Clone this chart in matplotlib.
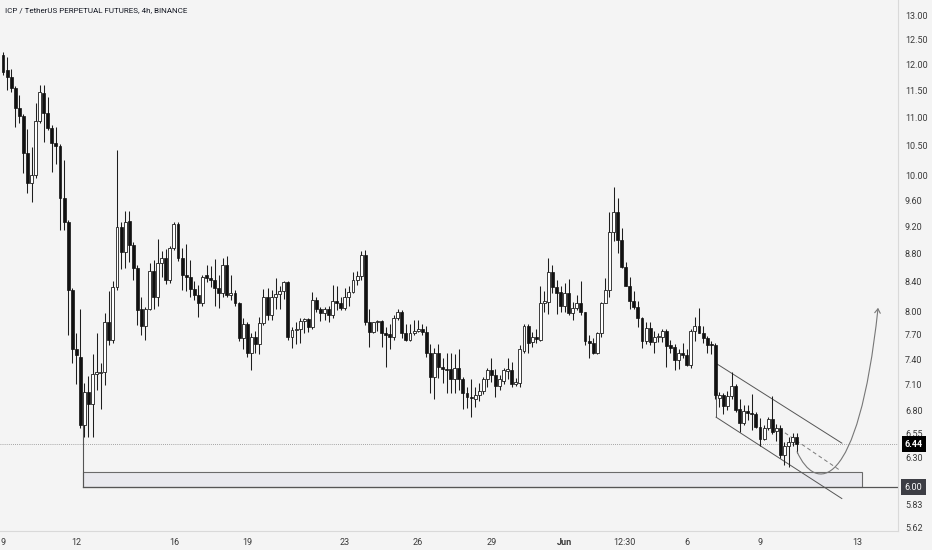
import numpy as np
import matplotlib
matplotlib.use("Agg")
import matplotlib.pyplot as plt
from matplotlib.patches import Rectangle, FancyArrowPatch
from matplotlib.path import Path
from matplotlib.ticker import FixedLocator, NullLocator, FixedFormatter

plt.rcParams['font.family'] = ['Roboto', 'DejaVu Sans']

# ---- 4h candles, ICP/USDT perp ----
opens = [12.18, 11.89, 11.75, 11.54, 11.17, 11.02, 10.38, 9.88, 10.01, 10.93,
         11.45, 11.08, 10.81, 10.55, 10.50, 9.64, 9.26, 8.29, 7.52, 7.43,
         6.64, 7.01, 6.88, 7.22, 7.24, 7.25, 7.87, 7.64, 8.33, 9.19,
         8.82, 9.28, 8.93, 8.60, 8.03, 7.82, 8.04, 8.55, 8.19, 8.67,
         8.74, 8.42, 8.88, 9.23, 8.74, 8.50, 8.47, 8.30, 8.22, 8.11,
         8.49, 8.45, 8.43, 8.32, 8.25, 8.64, 8.22, 8.25, 8.11, 7.66,
         7.84, 7.48, 7.67, 7.59, 7.85, 8.20, 7.96, 8.19, 8.24, 8.27,
         8.40, 7.68, 7.76, 7.77, 7.88, 7.90, 7.80, 8.16, 8.04, 7.98,
         8.04, 7.95, 8.14, 8.11, 8.05, 8.20, 8.26, 8.43, 8.48, 8.78,
         7.87, 7.74, 7.86, 7.88, 7.72, 7.71, 7.68, 7.92, 8.00, 7.73,
         7.64, 7.73, 7.75, 7.78, 7.74, 7.48, 7.19, 7.47, 7.31, 7.28,
         7.28, 7.17, 7.30, 7.17, 7.00, 6.96, 6.93, 6.98, 7.03, 7.16,
         7.27, 7.21, 7.08, 7.14, 7.26, 7.27, 7.11, 7.12, 7.50, 7.82,
         7.61, 7.68, 7.64, 8.11, 8.13, 8.54, 8.33, 8.26, 8.08, 8.25,
         7.98, 8.05, 8.11, 7.99, 7.62, 7.60, 7.48, 7.73, 8.12, 8.29,
         9.12, 9.42, 9.00, 8.61, 8.35, 8.14, 8.06, 7.92, 7.62, 7.79,
         7.61, 7.67, 7.68, 7.75, 7.57, 7.55, 7.39, 7.48, 7.45, 7.33,
         7.75, 7.82, 7.73, 7.66, 7.59, 7.58, 6.95, 6.98, 6.85, 6.97,
         7.08, 6.82, 6.67, 6.80, 6.78, 6.76, 6.62, 6.49, 6.61, 6.71,
         6.58, 6.61, 6.33, 6.42, 6.46, 6.51]

highs = [12.24, 12.14, 11.91, 11.58, 11.41, 11.06, 10.79, 10.48, 11.26, 11.60,
         11.60, 11.37, 10.86, 10.82, 10.53, 10.26, 9.30, 8.32, 7.73, 8.03,
         7.12, 7.20, 7.46, 7.73, 7.36, 7.98, 8.28, 8.41, 10.43, 9.27,
         9.44, 9.43, 8.96, 8.63, 8.19, 8.06, 8.67, 8.71, 9.01, 8.83,
         8.86, 8.91, 9.26, 9.26, 8.88, 8.94, 8.70, 8.41, 8.36, 8.49,
         8.64, 8.62, 8.72, 8.50, 8.74, 8.77, 8.50, 8.29, 8.13, 7.92,
         7.87, 7.73, 7.75, 7.93, 8.30, 8.32, 8.29, 8.46, 8.34, 8.41,
         8.41, 7.80, 7.86, 7.92, 7.92, 7.92, 8.26, 8.20, 8.06, 8.06,
         8.08, 8.36, 8.35, 8.20, 8.32, 8.34, 8.53, 8.55, 8.83, 8.85,
         8.03, 7.87, 7.89, 7.89, 7.80, 7.84, 7.96, 8.03, 8.02, 7.84,
         7.84, 7.89, 7.89, 7.84, 7.82, 7.59, 7.54, 7.59, 7.42, 7.48,
         7.48, 7.46, 7.52, 7.19, 7.07, 7.16, 7.07, 7.12, 7.19, 7.30,
         7.42, 7.28, 7.21, 7.30, 7.42, 7.37, 7.18, 7.58, 7.84, 7.84,
         7.74, 7.77, 8.34, 8.27, 8.74, 8.64, 8.43, 8.34, 8.39, 8.44,
         8.13, 8.22, 8.41, 8.00, 7.70, 7.66, 7.74, 8.13, 8.45, 9.42,
         9.82, 9.64, 9.18, 8.68, 8.47, 8.27, 8.14, 7.93, 7.87, 7.86,
         7.75, 7.73, 7.77, 7.77, 7.64, 7.59, 7.52, 7.60, 7.52, 7.77,
         7.93, 8.05, 7.82, 7.69, 7.63, 7.60, 7.01, 7.00, 7.02, 7.25,
         7.11, 6.93, 6.87, 6.86, 6.99, 6.79, 6.72, 6.64, 6.73, 6.97,
         6.66, 6.64, 6.46, 6.51, 6.56, 6.56]

lows = [11.79, 11.50, 11.46, 10.82, 10.90, 10.04, 9.72, 9.58, 9.96, 10.90,
        10.57, 10.77, 10.06, 10.19, 9.15, 9.15, 7.70, 7.36, 7.10, 6.61,
        6.52, 6.52, 6.52, 7.04, 6.82, 7.09, 7.58, 7.60, 8.29, 8.58,
        8.60, 8.68, 8.43, 7.83, 7.70, 7.64, 8.02, 8.04, 8.08, 8.47,
        8.37, 8.39, 8.85, 8.69, 8.29, 8.27, 8.19, 8.16, 7.93, 8.07,
        8.40, 8.33, 8.08, 8.05, 8.19, 8.19, 8.16, 8.08, 7.63, 7.52,
        7.43, 7.27, 7.48, 7.46, 7.83, 7.89, 7.89, 8.04, 8.04, 8.17,
        7.64, 7.54, 7.59, 7.60, 7.73, 7.74, 7.77, 7.99, 7.88, 7.89,
        7.86, 7.92, 8.02, 8.02, 8.02, 8.08, 8.25, 8.36, 8.42, 7.83,
        7.55, 7.72, 7.75, 7.55, 7.31, 7.53, 7.64, 7.89, 7.66, 7.62,
        7.62, 7.70, 7.74, 7.70, 7.43, 7.00, 6.93, 7.18, 7.12, 7.00,
        7.00, 7.00, 7.04, 6.82, 6.83, 6.73, 6.84, 6.91, 6.99, 7.07,
        7.13, 6.96, 7.04, 7.10, 7.16, 7.07, 7.08, 7.07, 7.48, 7.48,
        7.55, 7.60, 7.63, 7.99, 7.97, 8.25, 7.97, 7.99, 7.99, 7.96,
        7.89, 8.02, 7.96, 7.58, 7.41, 7.46, 7.46, 7.68, 8.11, 8.19,
        8.98, 8.81, 8.60, 8.34, 8.04, 8.04, 7.80, 7.54, 7.59, 7.58,
        7.48, 7.61, 7.61, 7.31, 7.48, 7.27, 7.28, 7.41, 7.32, 7.29,
        7.62, 7.72, 7.60, 7.48, 7.46, 6.93, 6.84, 6.76, 6.81, 6.93,
        6.79, 6.57, 6.64, 6.70, 6.59, 6.61, 6.42, 6.48, 6.59, 6.55,
        6.47, 6.29, 6.22, 6.20, 6.42, 6.35]

closes = [11.85, 11.75, 11.54, 11.17, 11.02, 10.38, 9.88, 10.01, 10.93, 11.46,
          11.08, 10.81, 10.55, 10.50, 9.64, 9.26, 8.29, 7.52, 7.45, 6.64,
          7.01, 6.88, 7.22, 7.25, 7.25, 7.87, 7.64, 8.33, 9.19, 8.82,
          9.27, 8.93, 8.60, 8.02, 7.82, 8.04, 8.55, 8.19, 8.67, 8.74,
          8.42, 8.88, 9.23, 8.74, 8.50, 8.47, 8.30, 8.22, 8.11, 8.47,
          8.45, 8.43, 8.32, 8.25, 8.64, 8.22, 8.25, 8.11, 7.66, 7.84,
          7.48, 7.67, 7.59, 7.85, 8.20, 7.96, 8.19, 8.24, 8.27, 8.40,
          7.68, 7.76, 7.77, 7.88, 7.90, 7.80, 8.16, 8.04, 7.98, 8.04,
          7.95, 8.14, 8.11, 8.05, 8.20, 8.26, 8.43, 8.48, 8.78, 7.87,
          7.74, 7.86, 7.88, 7.72, 7.70, 7.68, 7.92, 8.00, 7.73, 7.64,
          7.73, 7.75, 7.78, 7.74, 7.48, 7.19, 7.48, 7.31, 7.28, 7.27,
          7.17, 7.30, 7.17, 7.00, 6.96, 6.94, 6.98, 7.03, 7.16, 7.27,
          7.21, 7.08, 7.16, 7.27, 7.28, 7.11, 7.13, 7.52, 7.82, 7.60,
          7.68, 7.65, 8.11, 8.14, 8.54, 8.33, 8.25, 8.08, 8.25, 7.98,
          8.05, 8.11, 7.99, 7.62, 7.60, 7.48, 7.73, 8.12, 8.29, 9.12,
          9.42, 9.00, 8.61, 8.35, 8.14, 8.06, 7.92, 7.62, 7.79, 7.61,
          7.68, 7.69, 7.75, 7.56, 7.54, 7.39, 7.48, 7.45, 7.33, 7.75,
          7.82, 7.73, 7.66, 7.58, 7.57, 6.98, 6.98, 6.85, 6.97, 7.08,
          6.81, 6.67, 6.80, 6.78, 6.76, 6.62, 6.49, 6.61, 6.71, 6.57,
          6.61, 6.33, 6.42, 6.46, 6.51, 6.44]

# axis labels
y_ticks = [13.00, 12.50, 12.00, 11.50, 11.00, 10.50, 10.00, 9.60, 9.20, 8.80,
           8.40, 8.00, 7.70, 7.40, 7.10, 6.80, 6.55, 6.30, 6.05, 5.83, 5.62]
x_tick_pos = [0, 18, 42, 60, 84, 102, 120, 138, 152.7, 168, 186, 210]  # candle index
x_tick_lbl = ['9', '12', '16', '19', '23', '26', '29', 'Jun', '12:30', '6', '9', '13']

last_price = 6.44
support = 6.00
zone_top = 6.15

bg = '#f4f4f4'
ink = '#131722'

fig = plt.figure(figsize=(9.32, 5.5), dpi=100, facecolor=bg)
ax = fig.add_axes([0, 19 / 550, 898 / 932, 531 / 550])
ax.set_facecolor(bg)

o = np.array(opens)
h = np.array(highs)
l = np.array(lows)
c = np.array(closes)
idx = np.arange(len(o))
up = c >= o

ax.vlines(idx, l, h, color='#1e1e1e', lw=0.75, zorder=2)
bot = np.minimum(o, c)
hgt = np.maximum(np.abs(c - o), 0.004)
ax.bar(idx[~up], hgt[~up], bottom=bot[~up], width=0.72, color='#111111',
       edgecolor='#111111', linewidth=0.5, zorder=3)
ax.bar(idx[up], hgt[up], bottom=bot[up], width=0.72, color='white',
       edgecolor='#1e1e1e', linewidth=0.6, zorder=3)

ax.set_yscale('log')
ax.set_xlim(-0.74, 219.9)
ax.set_ylim(5.585, 13.33)

# last price dotted line
ax.axhline(last_price, color='#8a8a8a', lw=0.6, ls=(0, (1, 1.5)), zorder=1)

# support zone + 6.00 ray
x0 = 19.66
ax.add_patch(Rectangle((x0, support), 211.1 - x0, zone_top - support,
                       facecolor='#e9e9ee', edgecolor='#6a6a6a', lw=0.8, zorder=1))
ax.plot([x0, 219.9], [support, support], color='#555555', lw=0.9, zorder=1.5)
ax.plot([x0, x0], [6.64, support], color='#555555', lw=0.8, zorder=1.5)

# falling channel
ch = '#555555'
ax.plot([175.2, 206.1], [7.35, 6.45], color=ch, lw=0.7, zorder=1.5)
ax.plot([175.2, 206.1], [6.73, 5.89], color=ch, lw=0.7, zorder=1.5)
ax.plot([175.2, 175.2], [7.35, 6.73], color=ch, lw=0.7, zorder=1.5)
ax.plot([192.1, 205.6], [6.56, 6.17], color='#7a7a7a', lw=0.7, ls=(0, (4, 3)), zorder=1.5)

# projected path arrow
verts = [(195.1, 6.36), (199.5, 5.95), (210.1, 5.93), (215.0, 8.05)]
path = Path(verts, [Path.MOVETO, Path.CURVE4, Path.CURVE4, Path.CURVE4])
ax.add_patch(FancyArrowPatch(path=path, arrowstyle='->,head_length=3,head_width=2',
                             color='#777777', lw=0.8, zorder=2))

# axes look
for s in ['top', 'left']:
    ax.spines[s].set_visible(False)
ax.spines['right'].set_color('#d9d9d9')
ax.spines['bottom'].set_color('#d9d9d9')
ax.spines['right'].set_linewidth(0.8)
ax.spines['bottom'].set_linewidth(0.8)

ax.yaxis.tick_right()
ax.yaxis.set_major_locator(FixedLocator(y_ticks))
ax.yaxis.set_minor_locator(NullLocator())
ax.yaxis.set_major_formatter(FixedFormatter(['%.2f' % v for v in y_ticks]))
ax.tick_params(axis='y', length=0, pad=5, labelsize=6.5, labelcolor='#3a3a3a')

ax.xaxis.set_major_locator(FixedLocator(x_tick_pos))
ax.xaxis.set_minor_locator(NullLocator())
ax.xaxis.set_major_formatter(FixedFormatter(x_tick_lbl))
ax.tick_params(axis='x', length=0, pad=5, labelsize=6.5, labelcolor='#3a3a3a')
for t in ax.get_xticklabels():
    if t.get_text() == 'Jun':
        t.set_fontweight('bold')

# price labels on the scale
tr = ax.get_yaxis_transform()
ax.text(1.0075, last_price, '%.2f' % last_price, transform=tr, ha='left', va='center',
        fontsize=6.5, color='white', fontweight='bold', clip_on=False, zorder=6,
        bbox=dict(boxstyle='square,pad=0.35', fc='#000000', ec='none'))
ax.text(1.0075, support, '%.2f' % support, transform=tr, ha='left', va='center',
        fontsize=6.5, color='white', clip_on=False, zorder=6,
        bbox=dict(boxstyle='square,pad=0.4', fc='#3d3e45', ec='none'))

fig.text(5 / 932, 1 - 10 / 550, 'ICP / TetherUS PERPETUAL FUTURES, 4h, BINANCE',
         fontsize=5.8, color=ink, va='center', ha='left')

fig.savefig('out.png', dpi=100, facecolor=bg)
